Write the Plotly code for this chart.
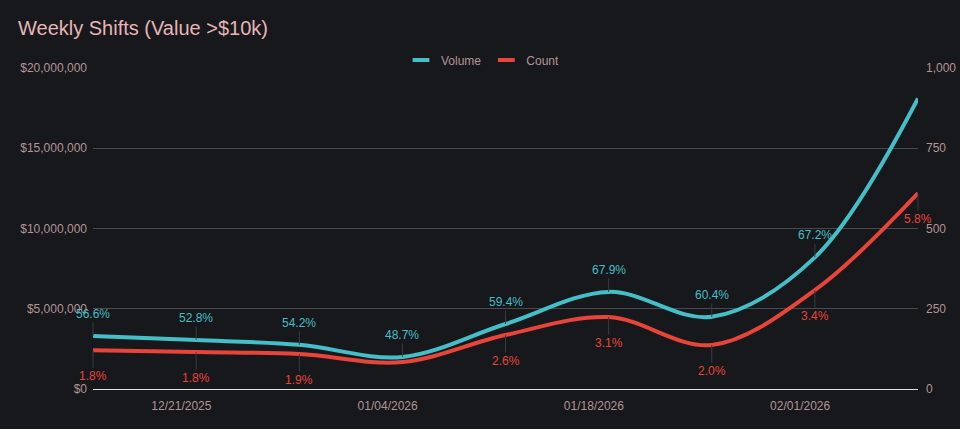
import plotly.graph_objects as go

dates = ["2025-12-15", "2025-12-22", "2025-12-29", "2026-01-05", "2026-01-12",
         "2026-01-19", "2026-01-26", "2026-02-02", "2026-02-09"]
volume = [3300000, 3050000, 2750000, 2000000, 4050000, 6050000, 4500000, 8200000, 18100000]
count = [121, 115, 109, 84, 168, 224, 137, 308, 610]
volume_pct = ["56.6%", "52.8%", "54.2%", "48.7%", "59.4%", "67.9%", "60.4%", "67.2%", ""]
count_pct = ["1.8%", "1.8%", "1.9%", "", "2.6%", "3.1%", "2.0%", "3.4%", "5.8%"]
tick_dates = ["2025-12-21", "2026-01-04", "2026-01-18", "2026-02-01"]
left_ticks = [0, 5000000, 10000000, 15000000, 20000000]
left_labels = ["$0", "$5,000,000", "$10,000,000", "$15,000,000", "$20,000,000"]
right_ticks = [0, 250, 500, 750, 1000]
right_labels = ["0", "250", "500", "750", "1,000"]

TEAL = "#45bfc7"
RED = "#e8443a"
BG = "#17181c"
TICK = "#b39494"
FONT = "Liberation Sans, Arial, sans-serif"

fig = go.Figure()
fig.add_trace(go.Scatter(x=dates, y=volume, name="Volume", mode="lines", showlegend=False,
                         line=dict(color=TEAL, width=4, shape="spline", smoothing=1.0),
                         yaxis="y"))
fig.add_trace(go.Scatter(x=dates, y=count, name="Count", mode="lines", showlegend=False,
                         line=dict(color=RED, width=4, shape="spline", smoothing=1.0),
                         yaxis="y2"))
# legend entries (short thick bar symbol)
for nm, col in [("Volume", TEAL), ("Count", RED)]:
    fig.add_trace(go.Scatter(x=[None], y=[None], name=nm, mode="markers",
                             marker=dict(symbol="line-ew", size=12,
                                         line=dict(color=col, width=4))))

annotations = []
for d, v, t in zip(dates, volume, volume_pct):
    if t:
        annotations.append(dict(x=d, y=v, xref="x", yref="y", text=t, showarrow=True,
                                arrowhead=0, arrowwidth=1, arrowcolor="#3a3b40",
                                ax=0, ay=-22, font=dict(color=TEAL, size=12, family=FONT)))
for d, c, t in zip(dates, count, count_pct):
    if t:
        annotations.append(dict(x=d, y=c, xref="x", yref="y2", text=t, showarrow=True,
                                arrowhead=0, arrowwidth=1, arrowcolor="#3a3b40",
                                ax=0, ay=26, font=dict(color=RED, size=12, family=FONT)))

fig.update_layout(
    width=960, height=429,
    paper_bgcolor=BG, plot_bgcolor=BG,
    margin=dict(l=93, r=42, t=68, b=40, autoexpand=False),
    font=dict(family=FONT, color=TICK, size=12),
    title=dict(text="Weekly Shifts (Value >$10k)", x=18/960, xanchor="left",
               y=1 - 28/429, yanchor="middle",
               font=dict(size=20, color="#e6b5b5", family=FONT)),
    showlegend=True,
    legend=dict(orientation="h", x=(483 - 93) / 825, xanchor="center", y=1 + 8/321,
                yanchor="middle", font=dict(color=TICK, size=12),
                bgcolor="rgba(0,0,0,0)", tracegroupgap=0),
    xaxis=dict(range=[dates[0], dates[-1]], tickvals=tick_dates, tickformat="%m/%d/%Y",
               showgrid=False, showline=True, linecolor="#e0e0e0", linewidth=1,
               ticks="", ticklabelstandoff=6, tickfont=dict(color=TICK, size=12),
               zeroline=False, automargin=False),
    yaxis=dict(range=[0, 20000000], tickvals=left_ticks, ticktext=left_labels,
               showgrid=True, gridcolor="#4a4a4e", gridwidth=1, zeroline=False,
               ticks="", ticklabelstandoff=5, tickfont=dict(color=TICK, size=12),
               automargin=False),
    yaxis2=dict(range=[0, 1000], tickvals=right_ticks, ticktext=right_labels,
                overlaying="y", side="right", showgrid=False, zeroline=False,
                ticks="", ticklabelstandoff=7, tickfont=dict(color=TICK, size=12),
                automargin=False),
    annotations=annotations,
)

fig.write_html("out.html", config={"displayModeBar": False},
               post_script="document.body.style.margin='0';document.body.style.background='#17181c';")
